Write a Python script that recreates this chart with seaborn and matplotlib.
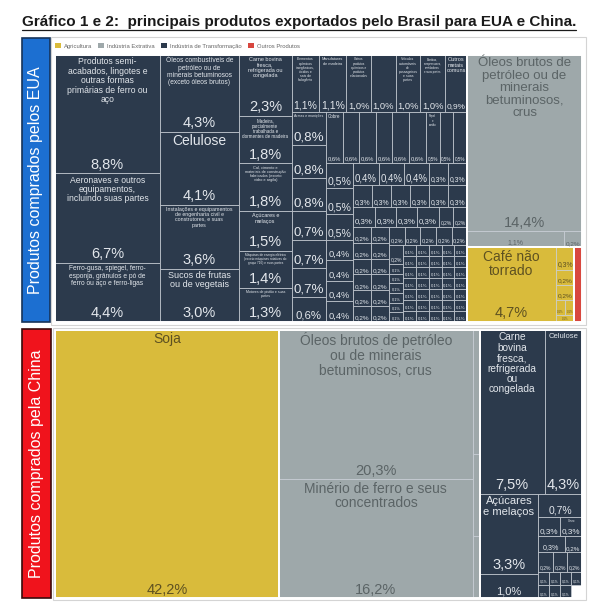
import textwrap
import matplotlib
matplotlib.use("Agg")
import matplotlib.pyplot as plt
from matplotlib.patches import Rectangle
from matplotlib.lines import Line2D
import numpy as np
import seaborn as sns

# ---------------- data: produtos comprados pelos EUA (% do total) ----------------
eua_transf_vals = [8.8, 6.7, 4.4, 4.3, 4.1, 3.6, 3.0, 2.3, 1.8, 1.8, 1.5, 1.4, 1.3,
                   1.1, 1.1, 1.0, 1.0, 1.0, 1.0, 0.9,
                   0.8, 0.8, 0.8, 0.7, 0.7, 0.7, 0.6,
                   0.6, 0.6, 0.6, 0.6, 0.6, 0.6, 0.5, 0.5, 0.5,
                   0.5, 0.5, 0.5, 0.4, 0.4, 0.4, 0.4,
                   0.4, 0.4, 0.4,
                   0.3, 0.3, 0.3, 0.3, 0.3, 0.3, 0.3, 0.3, 0.3, 0.3, 0.3, 0.3,
                   0.2, 0.2, 0.2, 0.2, 0.2, 0.2, 0.2, 0.2, 0.2, 0.2,
                   0.2, 0.2, 0.2, 0.2, 0.2, 0.2, 0.2, 0.2, 0.2, 0.2,
                   0.1, 0.1, 0.1, 0.1, 0.1, 0.1, 0.1, 0.1, 0.1, 0.1,
                   0.1, 0.1, 0.1, 0.1, 0.1, 0.1, 0.1, 0.1, 0.1, 0.1,
                   0.1, 0.1, 0.1, 0.1, 0.1, 0.1, 0.1, 0.1, 0.1, 0.1,
                   0.1, 0.1, 0.1, 0.1, 0.1, 0.1, 0.1, 0.1, 0.1, 0.1, 0.1]
eua_transf_names = [
    "Produtos semi-acabados, lingotes e outras formas primárias de ferro ou aço",
    "Aeronaves e outros equipamentos, incluindo suas partes",
    "Ferro-gusa, spiegel, ferro-esponja, grânulos e pó de ferro ou aço e ferro-ligas",
    "Óleos combustíveis de petróleo ou de minerais betuminosos (exceto óleos brutos)",
    "Celulose",
    "Instalações e equipamentos de engenharia civil e construtores, e suas partes",
    "Sucos de frutas ou de vegetais",
    "Carne bovina fresca, refrigerada ou congelada",
    "Madeira, parcialmente trabalhada e dormentes de madeira",
    "Cal, cimento e materiais de construção fabricados (exceto vidro e argila)",
    "Açúcares e melaços",
    "Máquinas de energia elétrica (exceto máquinas rotativas do grupo 716) e suas partes",
    "Motores de pistão e suas partes",
    "Elementos químicos inorgânicos, óxidos e sais de halogênio",
    "Manufaturas de madeira",
    "Outros produtos químicos e produtos relacionados",
    "Compostos organo-inorgânicos, heterocíclicos e outros",
    "Veículos automóveis de passageiros e suas partes",
    "Bombas, compressores, ventiladores e suas partes",
    "Outros metais comuns",
    "Armas e munições",
    "Outras máquinas e equipamentos industriais",
    "Tubos, perfis e conexões de ferro ou aço",
    "Óleos e gorduras vegetais",
    "Instrumentos e aparelhos de medição e controle",
    "Pedras, areias e cascalhos trabalhados",
    "Fios, tecidos e artigos têxteis",
    "Cobre", "", "", "", "", "", "Papel e cartão", "", "",
    "Outras manufaturas de metais comuns", "Óleos essenciais e produtos de perfumaria", "",
    "", "", "Couro", "Alumínio",
]
eua_transf_names += [""] * (len(eua_transf_vals) - len(eua_transf_names))

eua_extr_names = ["Óleos brutos de petróleo ou de minerais betuminosos, crus",
                  "Minério de ferro e seus concentrados", ""]
eua_extr_vals = [14.4, 1.1, 0.2]

eua_agro_names = ["Café não torrado", "", "", "", "", "", ""]
eua_agro_vals = [4.7, 0.3, 0.2, 0.2, 0.1, 0.1, 0.1]

eua_outros_names = [""]
eua_outros_vals = [0.4]

# ---------------- data: produtos comprados pela China ----------------
china_agro_names = ["Soja"]
china_agro_vals = [42.2]

china_extr_names = ["Óleos brutos de petróleo ou de minerais betuminosos, crus",
                    "Minério de ferro e seus concentrados", "", "", ""]
china_extr_vals = [20.3, 16.2, 0.6, 0.4, 0.3]

china_transf_names = ["Carne bovina fresca, refrigerada ou congelada", "Celulose",
                      "Açúcares e melaços",
                      "Farinhas, pellets e outros resíduos da indústria de alimentos",
                      "Ferro-gusa, spiegel, ferro-esponja e ferro-ligas",
                      "", "Couro", "", "", "", "", "", "", "", "", "", "", "", ""]
china_transf_vals = [7.5, 4.3, 3.3, 1.0, 0.7,
                     0.3, 0.3, 0.3, 0.2, 0.2, 0.2, 0.2,
                     0.1, 0.1, 0.1, 0.1, 0.1, 0.1, 0.1, 0.1]

legend_labels = ["Agricultura", "Indústria Extrativa", "Indústria de Transformação", "Outros Produtos"]
palette = sns.color_palette(["#d9bb3b", "#9ea8aa", "#2c3a4c", "#d8473f"])
text_colors = ["#5e5121", "#5b6466", "#e3e7ec", "#ffffff"]

PT = 100 / 72  # px per point


# ---------------- squarified layout ----------------
def worst(row, side):
    s = sum(row)
    return max(max(side * side * r / (s * s), s * s / (side * side * r)) for r in row)


def strip(vals, x, y, w, h, vertical):
    s = sum(vals)
    cells = []
    if vertical:
        sw = s / h
        yy = y
        for v in vals:
            cells.append((x, yy, sw, v / sw))
            yy += v / sw
        return cells, (x + sw, y, w - sw, h)
    sh = s / w
    xx = x
    for v in vals:
        cells.append((xx, y, v / sh, sh))
        xx += v / sh
    return cells, (x, y + sh, w, h - sh)


def layout(vals, rect, hints=()):
    x, y, w, h = rect
    total = sum(vals)
    areas = [v * w * h / total for v in vals]
    out = []
    i = 0
    for n, orient in hints:
        cells, rect = strip(areas[i:i + n], *rect, orient == "col")
        out += cells
        i += n
    while i < len(areas):
        x, y, w, h = rect
        side = min(w, h)
        row = [areas[i]]
        i += 1
        while i < len(areas) and worst(row + [areas[i]], side) <= worst(row, side):
            row.append(areas[i])
            i += 1
        cells, rect = strip(row, *rect, w >= h)
        out += cells
    return out


def label(ax, name, v, x, y, w, h, color):
    pct = f"{v:.1f}%".replace(".", ",")
    fs_p = min(10.5, (w - 3) / (len(pct) * 0.58 * PT), (h - 2) / (2.0 * PT))
    if fs_p >= 1.6:
        ax.text(x + w / 2, y + h - 1.5, pct, ha="center", va="bottom",
                fontsize=fs_p, color=color)
    else:
        fs_p = 0
    if not name:
        return
    avail = min(0.45 * h, h - fs_p * PT * 1.5 - 4)
    for fs in np.arange(10.0, 1.9, -0.25):
        per = int((w - 4) / (fs * PT * 0.54))
        if per < 3:
            continue
        lines = textwrap.wrap(name, per, break_long_words=False)
        if max(len(l) for l in lines) > per:
            continue
        if len(lines) * fs * PT * 1.18 <= avail:
            ax.text(x + w / 2, y + 2.5, "\n".join(lines), ha="center", va="top",
                    fontsize=fs, color=color, linespacing=1.05)
            break


def draw_treemap(ax, groups, W, H):
    groups = sorted(groups, key=lambda g: -sum(g[1]))
    grects = layout([sum(g[1]) for g in groups], (0, 0, W, H))
    for (names, vals, ci, hints), gr in zip(groups, grects):
        cells = layout(vals, gr, hints)
        for name, v, (x, y, w, h) in zip(names, vals, cells):
            ax.add_patch(Rectangle((x, y), w, h, facecolor=palette[ci],
                                   edgecolor="#c9cfd6", lw=0.5))
            label(ax, name, v, x, y, w, h, text_colors[ci])
        ax.add_patch(Rectangle(gr[:2], gr[2], gr[3], fill=False, edgecolor="white", lw=1.4))
    ax.set_xlim(0, W)
    ax.set_ylim(H, 0)
    ax.axis("off")


# ---------------- figure ----------------
sns.set_theme(style="white")
plt.rcParams["font.family"] = ["Liberation Sans", "DejaVu Sans"]
FW, FH = 595, 602
fig = plt.figure(figsize=(FW / 100, FH / 100), dpi=100)


def add_box_axes(l, t, r, b):
    return fig.add_axes([l / FW, 1 - b / FH, (r - l) / FW, (b - t) / FH]), r - l, b - t


def fig_rect(l, t, r, b, **kw):
    fig.add_artist(Rectangle((l / FW, 1 - b / FH), (r - l) / FW, (b - t) / FH,
                             transform=fig.transFigure, **kw))


# visual frames
fig_rect(51, 37, 586, 325, fill=False, ec="#d4d4d4", lw=0.8)
fig_rect(53, 328, 586, 600, fill=False, ec="#d4d4d4", lw=0.8)

ax1, W1, H1 = add_box_axes(55, 55, 582, 322)
draw_treemap(ax1, [
    (eua_transf_names, eua_transf_vals, 2, [(3, "col"), (4, "col"), (6, "col"), (7, "row"),
                                            (7, "col"), (9, "row"), (7, "col")]),
    (eua_extr_names, eua_extr_vals, 1, [(1, "row")]),
    (eua_agro_names, eua_agro_vals, 0, [(1, "col")]),
    (eua_outros_names, eua_outros_vals, 3, []),
], W1, H1)

ax2, W2, H2 = add_box_axes(55, 330, 582, 598)
draw_treemap(ax2, [
    (china_agro_names, china_agro_vals, 0, []),
    (china_extr_names, china_extr_vals, 1, [(2, "col")]),
    (china_transf_names, china_transf_vals, 2, [(2, "row"), (2, "col")]),
], W2, H2)

# side labels
fig_rect(22, 38, 50, 322, facecolor="#1c6fd1", ec="#16345a", lw=1.2)
fig.text(36 / FW, 1 - 180 / FH, "Produtos comprados pelos EUA", rotation=90,
         ha="center", va="center", color="white", fontsize=11.5)
fig_rect(22, 329, 51, 598, facecolor="#f0131c", ec="#3a0a0a", lw=1.2)
fig.text(36.5 / FW, 1 - 464 / FH, "Produtos comprados pela China", rotation=90,
         ha="center", va="center", color="white", fontsize=11.5)

# legend
handles = [Rectangle((0, 0), 1, 1, facecolor=c, edgecolor="none") for c in palette]
fig.legend(handles, legend_labels, loc="center left", bbox_to_anchor=(55 / FW, 1 - 46 / FH),
           ncol=4, frameon=False, fontsize=4.2, handlelength=1.0, handleheight=1.0,
           handletextpad=0.5, columnspacing=1.1, labelcolor="#666666", borderaxespad=0,
           borderpad=0)

# title with underline
title = fig.text(22 / FW, 1 - 22 / FH, "Gráfico 1 e 2:  principais produtos exportados pelo Brasil para EUA e China.",
                 ha="left", va="center", fontsize=11, fontweight="bold", color="#1a1a1a")
fig.canvas.draw()
bb = title.get_window_extent(renderer=fig.canvas.get_renderer())
fig.add_artist(Line2D([bb.x0 / FW, bb.x1 / FW], [(bb.y0 - 1.2) / FH] * 2,
                      transform=fig.transFigure, color="#1a1a1a", lw=0.9))

fig.savefig("out.png", dpi=100)
